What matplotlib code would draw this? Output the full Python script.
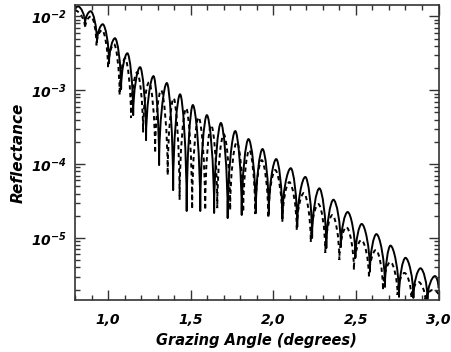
import numpy as np
import matplotlib
matplotlib.use('Agg')
import matplotlib.pyplot as plt
from matplotlib.path import Path
from matplotlib.patches import PathPatch
from matplotlib.ticker import FixedLocator, LogLocator, NullFormatter, FuncFormatter

# maxima and minima of the solid curve
solid_peak_x = [0.800, 0.818, 0.895, 0.968, 1.042, 1.117, 1.194, 1.275, 1.356, 1.436,
                1.513, 1.598, 1.683, 1.770, 1.850, 1.935, 2.018, 2.106, 2.194, 2.279,
                2.364, 2.450, 2.535, 2.624, 2.709, 2.800, 2.891, 2.979]
solid_peak_y = [1.20e-2, 1.36e-2, 1.17e-2, 7.8e-3, 5.05e-3, 3.16e-3, 2.05e-3, 1.55e-3, 1.25e-3, 8.8e-4,
                6.3e-4, 4.6e-4, 3.6e-4, 2.8e-4, 2.18e-4, 1.6e-4, 1.17e-4, 8.8e-5, 6.7e-5, 4.7e-5,
                3.3e-5, 2.25e-5, 1.55e-5, 1.13e-5, 7.9e-6, 5.4e-6, 3.9e-6, 3.06e-6]
solid_dip_x = [0.861, 0.933, 1.006, 1.079, 1.152, 1.230, 1.309, 1.394, 1.476, 1.558,
               1.642, 1.724, 1.809, 1.894, 1.973, 2.055, 2.145, 2.235, 2.321, 2.409,
               2.497, 2.585, 2.676, 2.761, 2.848, 2.933, 3.000]
solid_dip_y = [8.0e-3, 4.46e-3, 2.32e-3, 1.03e-3, 4.6e-4, 2.11e-4, 9.7e-5, 4.45e-5, 2.32e-5, 2.32e-5,
               2.18e-5, 1.86e-5, 2.05e-5, 2.18e-5, 2.11e-5, 1.86e-5, 1.41e-5, 1.0e-5, 7.3e-6, 7.55e-6,
               5.4e-6, 3.5e-6, 2.18e-6, 1.6e-6, 1.55e-6, 1.5e-6, 2.1e-6]

# maxima and minima of the dashed curve
dash_peak_x = [0.800, 0.897, 0.964, 1.036, 1.103, 1.176, 1.248, 1.321, 1.397, 1.473,
               1.548, 1.624, 1.700, 1.779, 1.855, 1.930, 2.012, 2.097, 2.185, 2.273,
               2.358, 2.442, 2.533, 2.621, 2.709, 2.794, 2.879, 2.964]
dash_peak_y = [1.2e-2, 1.0e-2, 6.5e-3, 4.2e-3, 2.7e-3, 1.75e-3, 1.28e-3, 1.0e-3, 7.8e-4, 5.7e-4,
               4.3e-4, 3.37e-4, 2.54e-4, 1.98e-4, 1.55e-4, 1.13e-4, 8.3e-5, 5.7e-5, 4.06e-5, 2.88e-5,
               2.05e-5, 1.41e-5, 9.4e-6, 6.9e-6, 4.74e-6, 3.37e-6, 2.54e-6, 1.98e-6]
dash_dip_x = [0.861, 0.930, 1.000, 1.070, 1.139, 1.212, 1.285, 1.361, 1.433, 1.509,
              1.588, 1.661, 1.739, 1.818, 1.891, 1.970, 2.055, 2.142, 2.227, 2.315,
              2.400, 2.488, 2.579, 2.664, 2.752, 2.836, 2.921, 3.000]
dash_dip_y = [6.9e-3, 4.05e-3, 1.98e-3, 8.6e-4, 4.2e-4, 2.7e-4, 1.41e-4, 7.1e-5, 3.3e-5, 2.47e-5,
              2.39e-5, 2.54e-5, 2.39e-5, 2.25e-5, 2.11e-5, 1.86e-5, 1.64e-5, 1.28e-5, 8.8e-6, 6.3e-6,
              5.05e-6, 3.7e-6, 2.88e-6, 1.98e-6, 1.7e-6, 1.55e-6, 1.4e-6, 1.7e-6]

x_ticks = [1.0, 1.5, 2.0, 2.5, 3.0]
x_tick_labels = ['1,0', '1,5', '2,0', '2,5', '3,0']


def fringe_path(px, py, dx, dy):
    # go through maxima and minima in order of angle; each piece is a bezier
    # with a round top at the higher end and a steep side at the lower end
    pts = sorted(zip(px + dx, py + dy))
    verts = [pts[0]]
    codes = [Path.MOVETO]
    for (xa, ya), (xb, yb) in zip(pts[:-1], pts[1:]):
        w = xb - xa
        if ya >= yb:
            c1 = (xa + 0.4 * w, ya)
            c2 = (xb, yb * (ya / yb) ** 0.5)
        else:
            c1 = (xa, ya * (yb / ya) ** 0.5)
            c2 = (xb - 0.4 * w, yb)
        verts += [c1, c2, (xb, yb)]
        codes += [Path.CURVE4] * 3
    return Path(verts, codes)


plt.rcParams['font.family'] = 'DejaVu Sans'
plt.rcParams['mathtext.fontset'] = 'custom'
plt.rcParams['mathtext.it'] = 'DejaVu Sans:italic:bold'
plt.rcParams['mathtext.rm'] = 'DejaVu Sans:italic:bold'
plt.rcParams['mathtext.default'] = 'it'

fig = plt.figure(figsize=(4.51, 3.52), dpi=100)
ax = fig.add_axes([0.1663, 0.1477, 0.8060, 0.8381])

ax.add_patch(PathPatch(fringe_path(dash_peak_x, dash_peak_y, dash_dip_x, dash_dip_y),
                       fill=False, edgecolor='black', lw=1.4, ls=(0, (2.2, 1.8))))
ax.add_patch(PathPatch(fringe_path(solid_peak_x, solid_peak_y, solid_dip_x, solid_dip_y),
                       fill=False, edgecolor='black', lw=1.4, joinstyle='round'))

ax.set_yscale('log')
ax.set_xlim(0.8, 3.0)
ax.set_ylim(1.45e-6, 1.42e-2)

ax.xaxis.set_major_locator(FixedLocator(x_ticks))
ax.xaxis.set_minor_locator(FixedLocator(np.arange(0.8, 3.01, 0.1)))
ax.set_xticklabels(x_tick_labels)
ax.yaxis.set_major_locator(LogLocator(base=10))
ax.yaxis.set_minor_locator(LogLocator(base=10, subs=np.arange(2, 10)))
ax.yaxis.set_minor_formatter(NullFormatter())
ax.yaxis.set_major_formatter(FuncFormatter(
    lambda v, p: r'$10^{%d}$' % round(np.log10(v))))

ax.tick_params(which='both', direction='in', top=True, right=True, color='#333333')
ax.tick_params(which='major', length=7, width=1.0, labelsize=10)
ax.tick_params(axis='x', which='major', pad=9)
ax.tick_params(axis='y', which='major', pad=6)
ax.tick_params(which='minor', length=3.5, width=1.0)
for lab in ax.get_xticklabels():
    lab.set_fontstyle('italic')
    lab.set_fontweight('bold')
for s in ax.spines.values():
    s.set_linewidth(1.2)
    s.set_color('#333333')

ax.set_xlabel('Grazing Angle (degrees)', fontsize=10.5, fontstyle='italic',
              fontweight='bold', labelpad=5)
ax.set_ylabel('Reflectance', fontsize=11, fontstyle='italic', fontweight='bold',
              labelpad=4)

fig.savefig('out.png', dpi=100)
